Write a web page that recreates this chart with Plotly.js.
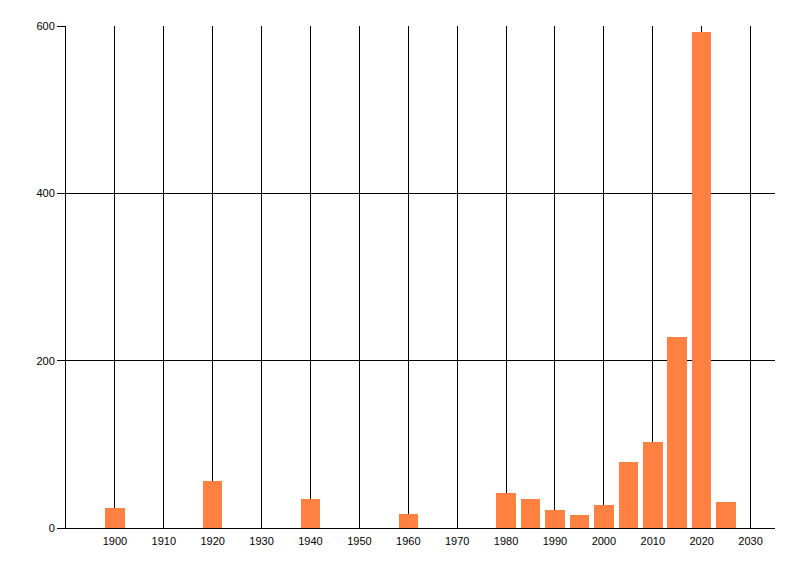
<!DOCTYPE html>
<html>
<head>
<meta charset="utf-8">
<script src="https://cdn.plot.ly/plotly-3.0.1.min.js"></script>
<style>html,body{margin:0;padding:0;background:#fff;}#chart{width:800px;height:576px;}</style>
</head>
<body>
<div id="chart"></div>
<script>
const years = [1900, 1920, 1940, 1960, 1980, 1985, 1990, 1995, 2000, 2005, 2010, 2015, 2020, 2025];
const counts = [24, 56, 35, 17, 42, 35, 21, 16, 27, 79, 103, 228, 593, 31];
const xTickVals = [1900, 1910, 1920, 1930, 1940, 1950, 1960, 1970, 1980, 1990, 2000, 2010, 2020, 2030];
const xTickText = xTickVals.map(String);
const yTickVals = [0, 200, 400, 600];

const trace = {
  type: 'bar',
  x: years,
  y: counts,
  width: 4,
  marker: {color: '#FF8040', line: {width: 0}},
  hoverinfo: 'x+y'
};

const layout = {
  width: 800,
  height: 576,
  margin: {l: 66, r: 25, t: 26, b: 48, pad: 0},
  paper_bgcolor: '#fff',
  plot_bgcolor: '#fff',
  showlegend: false,
  font: {family: 'Liberation Sans, Arial, sans-serif', size: 11, color: '#000'},
  xaxis: {
    range: [1890, 2035],
    tickvals: xTickVals,
    ticktext: xTickText,
    showgrid: true,
    gridcolor: '#000',
    gridwidth: 1,
    zeroline: false,
    showline: true,
    linecolor: '#000',
    linewidth: 1,
    ticks: '',
    ticklen: 0,
    ticklabelstandoff: 3,
    tickfont: {size: 11, color: '#000'},
    fixedrange: true
  },
  yaxis: {
    range: [0, 600],
    tickvals: yTickVals,
    showgrid: true,
    gridcolor: '#000',
    gridwidth: 1,
    zeroline: false,
    showline: true,
    linecolor: '#000',
    linewidth: 1,
    ticks: 'outside',
    ticklen: 8,
    tickcolor: '#000',
    tickwidth: 1,
    tickfont: {size: 11, color: '#000'},
    fixedrange: true
  },
  bargap: 0
};

Plotly.newPlot('chart', [trace], layout, {displayModeBar: false, staticPlot: true});
</script>
</body>
</html>
